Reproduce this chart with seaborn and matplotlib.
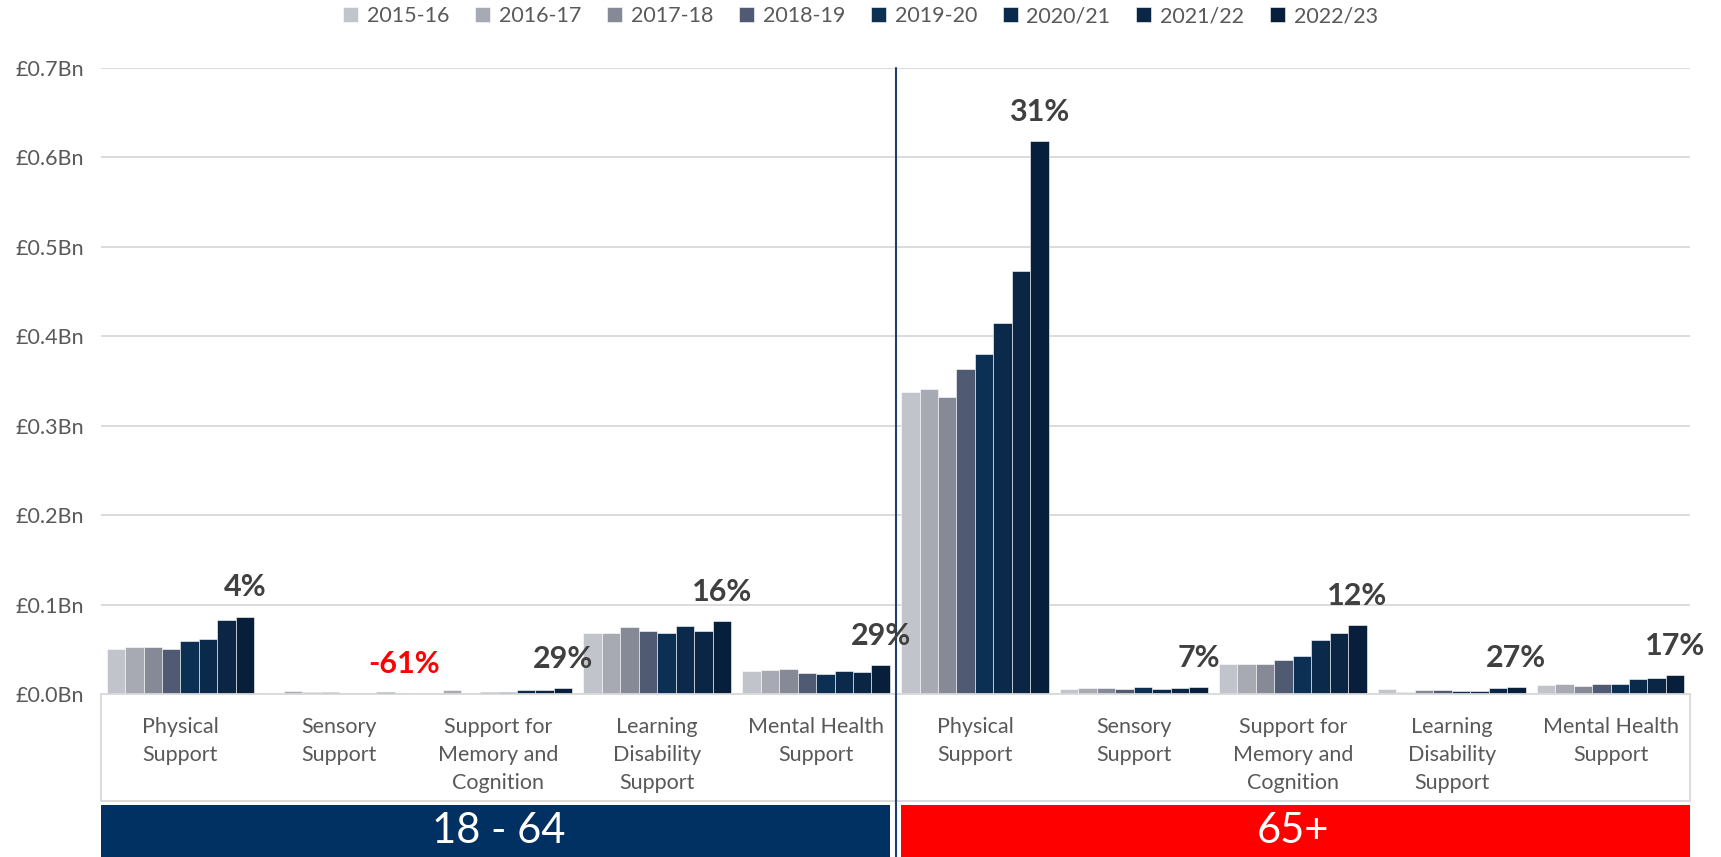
import pandas as pd
import seaborn as sns
import matplotlib.pyplot as plt
from matplotlib.patches import Rectangle
from matplotlib.lines import Line2D
from matplotlib.transforms import blended_transform_factory

years = ['2015-16', '2016-17', '2017-18', '2018-19', '2019-20', '2020/21', '2021/22', '2022/23']
age_groups = ['18 - 64', '65+']
categories = ['Physical\nSupport', 'Sensory\nSupport', 'Support for\nMemory and\nCognition',
              'Learning\nDisability\nSupport', 'Mental Health\nSupport']

# spend in £bn, 5 categories for 18-64 then the same 5 for 65+
spend_2015_16 = [0.050, 0.001, 0.0005, 0.068, 0.0262, 0.338, 0.006, 0.0337, 0.0056, 0.0105]
spend_2016_17 = [0.052, 0.003, 0.004, 0.068, 0.0273, 0.341, 0.007, 0.0337, 0.0026, 0.0109]
spend_2017_18 = [0.052, 0.002, 0.001, 0.0745, 0.0277, 0.332, 0.007, 0.0337, 0.0045, 0.009]
spend_2018_19 = [0.050, 0.002, 0.002, 0.070, 0.0232, 0.363, 0.006, 0.0378, 0.004, 0.0109]
spend_2019_20 = [0.059, 0.0015, 0.002, 0.0685, 0.0221, 0.380, 0.008, 0.042, 0.0037, 0.0116]
spend_2020_21 = [0.062, 0.0015, 0.004, 0.0764, 0.0262, 0.4146, 0.006, 0.060, 0.0037, 0.0169]
spend_2021_22 = [0.083, 0.0026, 0.005, 0.0704, 0.0247, 0.4726, 0.007, 0.0685, 0.0065, 0.0184]
spend_2022_23 = [0.0865, 0.001, 0.0064, 0.0816, 0.0322, 0.6186, 0.0075, 0.0775, 0.0082, 0.0213]

changes = ['4%', '-61%', '29%', '16%', '29%', '31%', '7%', '12%', '27%', '17%']

palette = ['#C0C3CB', '#A5A9B4', '#838899', '#4A5878', '#003060', '#002856', '#00264E', '#001E44']

all_spend = [spend_2015_16, spend_2016_17, spend_2017_18, spend_2018_19,
             spend_2019_20, spend_2020_21, spend_2021_22, spend_2022_23]
slots = [f'{g}|{c}' for g in age_groups for c in categories]
rows = []
for yr, vals in zip(years, all_spend):
    for s, v in zip(slots, vals):
        rows.append({'slot': s, 'year': yr, 'spend': v})
df = pd.DataFrame(rows)

sns.set_style('white')
plt.rcParams['font.family'] = ['Lato', 'DejaVu Sans']

fig = plt.figure(figsize=(17.21, 8.57), dpi=100)
ax = fig.add_axes([101 / 1721, 163 / 857, 1589 / 1721, 626 / 857])

sns.barplot(data=df, x='slot', y='spend', hue='year', order=slots, hue_order=years,
            palette=palette, width=0.93, gap=0, edgecolor='white', linewidth=0.4,
            legend=True, ax=ax)

ax.set_xlim(-0.5, 9.5)
ax.set_ylim(0, 0.7)
ax.set_yticks([i / 10 for i in range(8)])
ax.set_yticklabels([f'£{i / 10:.1f}Bn' for i in range(8)], fontsize=15.5, color='#595959')
ax.tick_params(axis='y', length=0, pad=12)
ax.set_xticks([])
ax.set_xlabel('')
ax.set_ylabel('')
ax.grid(axis='y', color='#D9D9D9', linewidth=1.3)
ax.set_axisbelow(True)
for sp in ax.spines.values():
    sp.set_visible(False)

# change labels above the last year's bar
last = ax.containers[-1]
for bar, txt in zip(last, changes):
    col = '#FF0000' if txt.startswith('-') else '#404040'
    ax.annotate(txt, (bar.get_x() + bar.get_width() / 2, bar.get_height()),
                xytext=(0, 21), textcoords='offset points', ha='center', va='center',
                fontsize=22, fontweight='bold', color=col)

handles, labels = ax.get_legend_handles_labels()
ax.get_legend().remove()
fig.legend(handles, labels, loc='center', bbox_to_anchor=(0.5, 0.981), ncol=8,
           frameon=False, fontsize=15.5, labelcolor='#595959', handlelength=0.7,
           handleheight=0.7, handletextpad=0.4, columnspacing=1.2)

tr = blended_transform_factory(ax.transData, fig.transFigure)

# category label table
ax.add_patch(Rectangle((-0.5, 56 / 857), 10, (163 - 56) / 857, transform=tr,
                       facecolor='none', edgecolor='#D9D9D9', linewidth=1.3, clip_on=False))
for i, s in enumerate(slots):
    ax.text(i, 140 / 857, s.split('|')[1], transform=tr, ha='center', va='top',
            fontsize=15.5, color='#595959', linespacing=1.5)

# age-group bands
gap = 0.035
ax.add_patch(Rectangle((-0.5, 0), 5 - gap, 52 / 857, transform=tr,
                       facecolor='#003162', edgecolor='none', clip_on=False))
ax.add_patch(Rectangle((4.5 + gap, 0), 5 - gap, 52 / 857, transform=tr,
                       facecolor='#FF0000', edgecolor='none', clip_on=False))
ax.text(2, 26 / 857, age_groups[0], transform=tr, ha='center', va='center',
        fontsize=30, color='white')
ax.text(7, 26 / 857, age_groups[1], transform=tr, ha='center', va='center',
        fontsize=30, color='white')

# divider between age groups
ax.add_line(Line2D([4.5, 4.5], [0, 789 / 857], transform=tr, color='#1F3F6E',
                   linewidth=1.5, clip_on=False))

fig.savefig('out.png', dpi=100)
